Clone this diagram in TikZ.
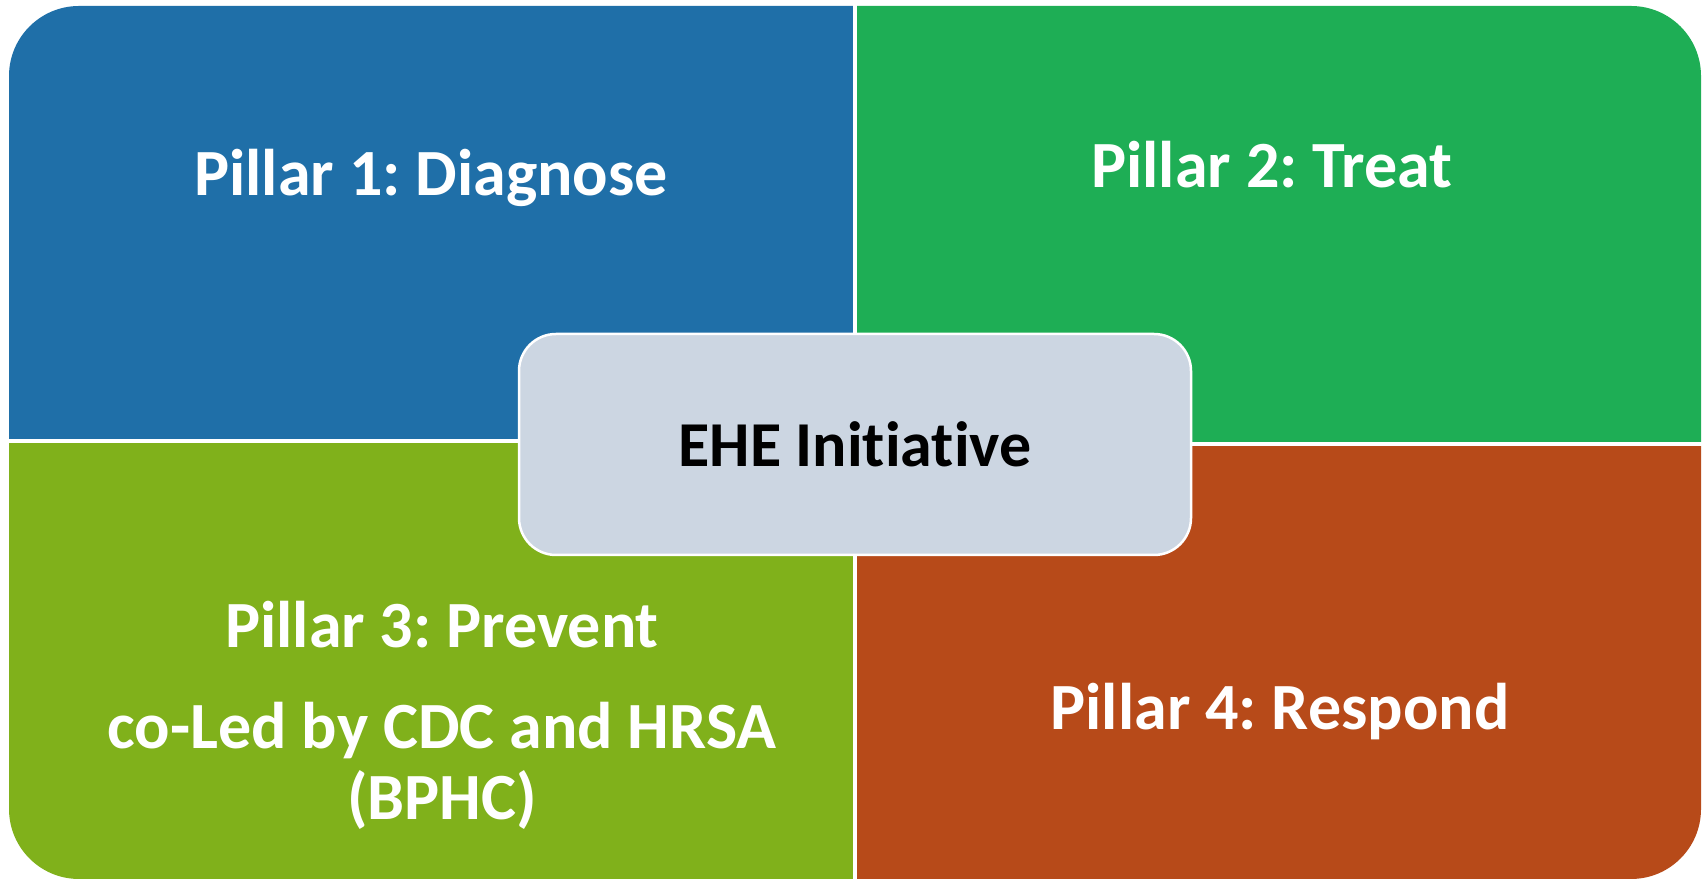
\documentclass[tikz,border=0pt]{standalone}
\usepackage{fontspec}
\setmainfont{Carlito}[Ligatures=NoCommon]
\frenchspacing
\usetikzlibrary{positioning}
\definecolor{diag}{HTML}{1F6FA8}
\definecolor{treat}{HTML}{1EAE55}
\definecolor{prev}{HTML}{80B11B}
\definecolor{resp}{HTML}{B74A19}
\definecolor{hubfill}{HTML}{CCD6E2}
\tikzset{pl/.style={text=white, font=\fontsize{66}{71}\selectfont\bfseries,
            inner sep=0pt, align=center},
         hub/.style={draw=white, line width=2.5pt, fill=hubfill, rounded corners=37pt,
            minimum width=672pt, minimum height=221pt, text=black,
            font=\fontsize{64}{69}\selectfont\bfseries}}

\begin{document}
\begin{tikzpicture}[x=1pt, y=1pt]
\useasboundingbox (0,0) rectangle (1703,880);
\begin{scope}
 \clip[rounded corners=70pt] (9,1) rectangle (1701,874);
 \fill[diag] (0,441) rectangle (853,880);
 \fill[treat] (857,438) rectangle (1703,880);
 \fill[prev] (0,0) rectangle (853,437);
 \fill[resp] (857,0) rectangle (1703,434);
\end{scope}
\node[hub] (ehe) at (855,435.5) {EHE Initiative};
\node[pl, anchor=base] (p1) at (431,684) {Pillar 1: Diagnose};
\node[pl, anchor=base] (p2) at (1272,692) {Pillar 2: Treat};
% base anchor of a multi-line node sits on its last line
\node[pl, anchor=base] (p3) at (442,60) {Pillar 3: Prevent\\[30pt]
    co-Led by CDC and HRSA\\ (BPHC)};
\node[pl, anchor=base] (p4) at (1280,150) {Pillar 4: Respond};
\end{tikzpicture}
\end{document}
